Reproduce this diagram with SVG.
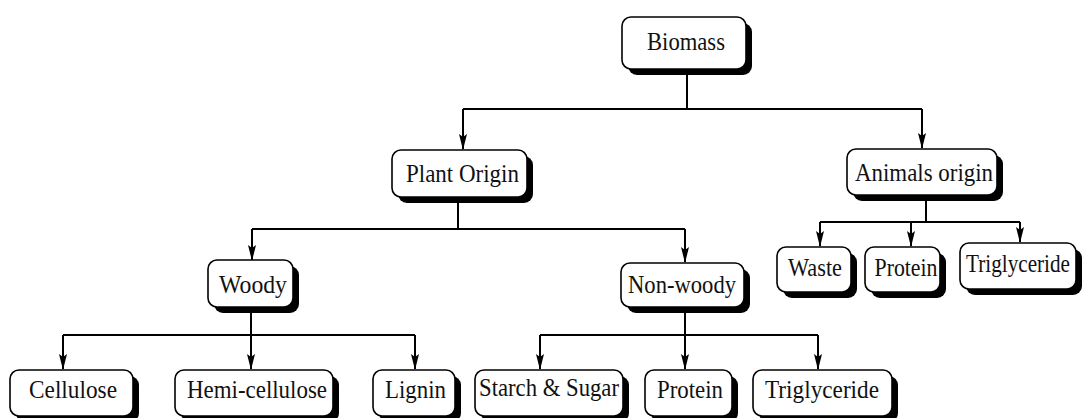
<svg xmlns="http://www.w3.org/2000/svg" width="1084" height="418" viewBox="0 0 1084 418">
  <defs>
    <style>
      .box { fill: #fff; stroke: #000; stroke-width: 1.6; }
      .shadow { fill: #000; }
      .lbl { font-family: "Liberation Serif", "Times New Roman", serif; font-size: 26px; fill: #111; text-anchor: middle; }
      .wire { fill: none; stroke: #000; stroke-width: 2; }
    </style>
    <!-- slender arrowhead, tip at the end of the line -->
    <marker id="arrow" viewBox="0 0 16 8" refX="15" refY="4" markerWidth="16" markerHeight="8" markerUnits="userSpaceOnUse" orient="auto">
      <path d="M0,0 L16,4 L0,8 L3,4 Z" fill="#000"/>
    </marker>
  </defs>
  <rect width="1084" height="418" fill="#fff"/>

  <!-- connectors -->
  <g id="connectors" class="wire">
    <path d="M687,75 V109 M463,109 H922"/>
    <path d="M463,109 V149" marker-end="url(#arrow)"/>
    <path d="M922,109 V148" marker-end="url(#arrow)"/>

    <path d="M458,203 V229 M252,229 H685"/>
    <path d="M252,229 V260" marker-end="url(#arrow)"/>
    <path d="M685,229 V262" marker-end="url(#arrow)"/>

    <path d="M926,201 V222 M820,222 H1020"/>
    <path d="M820,222 V246" marker-end="url(#arrow)"/>
    <path d="M911,222 V246" marker-end="url(#arrow)"/>
    <path d="M1020,222 V242" marker-end="url(#arrow)"/>

    <path d="M251,313 V335 M63,335 H415"/>
    <path d="M63,335 V369" marker-end="url(#arrow)"/>
    <path d="M251,335 V369" marker-end="url(#arrow)"/>
    <path d="M415,335 V369" marker-end="url(#arrow)"/>

    <path d="M685,313 V335 M540,335 H818"/>
    <path d="M540,335 V369" marker-end="url(#arrow)"/>
    <path d="M685,335 V369" marker-end="url(#arrow)"/>
    <path d="M818,335 V369" marker-end="url(#arrow)"/>
  </g>

  <!-- nodes: shadow, box, label -->
  <g id="biomass">
    <rect class="shadow" x="628" y="23" width="124" height="52" rx="9"/>
    <rect class="box" x="622" y="17" width="124" height="52" rx="9"/>
    <text class="lbl" x="686" y="50" textLength="78" lengthAdjust="spacingAndGlyphs">Biomass</text>
  </g>
  <g id="plant-origin">
    <rect class="shadow" x="398" y="156" width="135" height="47" rx="9"/>
    <rect class="box" x="392" y="150" width="135" height="47" rx="9"/>
    <text class="lbl" x="462.5" y="182" textLength="113" lengthAdjust="spacingAndGlyphs">Plant Origin</text>
  </g>
  <g id="animals-origin">
    <rect class="shadow" x="853" y="155" width="150" height="46" rx="9"/>
    <rect class="box" x="847" y="149" width="150" height="46" rx="9"/>
    <text class="lbl" x="924" y="181" textLength="138" lengthAdjust="spacingAndGlyphs">Animals origin</text>
  </g>
  <g id="woody">
    <rect class="shadow" x="214" y="266" width="85" height="47" rx="9"/>
    <rect class="box" x="208" y="260" width="85" height="47" rx="9"/>
    <text class="lbl" x="253" y="293" textLength="68" lengthAdjust="spacingAndGlyphs">Woody</text>
  </g>
  <g id="non-woody">
    <rect class="shadow" x="627" y="269" width="123" height="44" rx="9"/>
    <rect class="box" x="621" y="263" width="123" height="44" rx="9"/>
    <text class="lbl" x="682" y="293" textLength="108" lengthAdjust="spacingAndGlyphs">Non-woody</text>
  </g>
  <g id="waste">
    <rect class="shadow" x="783" y="253" width="74" height="45" rx="9"/>
    <rect class="box" x="777" y="247" width="74" height="45" rx="9"/>
    <text class="lbl" x="815" y="276" textLength="54" lengthAdjust="spacingAndGlyphs">Waste</text>
  </g>
  <g id="animal-protein">
    <rect class="shadow" x="871" y="253" width="75" height="45" rx="9"/>
    <rect class="box" x="865" y="247" width="75" height="45" rx="9"/>
    <text class="lbl" x="906" y="276" textLength="63" lengthAdjust="spacingAndGlyphs">Protein</text>
  </g>
  <g id="animal-triglyceride">
    <rect class="shadow" x="966" y="249" width="116" height="46" rx="9"/>
    <rect class="box" x="960" y="243" width="116" height="46" rx="9"/>
    <text class="lbl" x="1018" y="272" font-size="24" textLength="104" lengthAdjust="spacingAndGlyphs">Triglyceride</text>
  </g>
  <g id="cellulose">
    <rect class="shadow" x="16" y="376" width="123" height="46" rx="9"/>
    <rect class="box" x="10" y="370" width="123" height="46" rx="9"/>
    <text class="lbl" x="73" y="398" textLength="88" lengthAdjust="spacingAndGlyphs">Cellulose</text>
  </g>
  <g id="hemi-cellulose">
    <rect class="shadow" x="181" y="376" width="158" height="46" rx="9"/>
    <rect class="box" x="175" y="370" width="158" height="46" rx="9"/>
    <text class="lbl" x="257" y="398" textLength="140" lengthAdjust="spacingAndGlyphs">Hemi-cellulose</text>
  </g>
  <g id="lignin">
    <rect class="shadow" x="379" y="376" width="82" height="46" rx="9"/>
    <rect class="box" x="373" y="370" width="82" height="46" rx="9"/>
    <text class="lbl" x="415.5" y="398" textLength="61" lengthAdjust="spacingAndGlyphs">Lignin</text>
  </g>
  <g id="starch-sugar">
    <rect class="shadow" x="481" y="376" width="148" height="46" rx="9"/>
    <rect class="box" x="475" y="370" width="148" height="46" rx="9"/>
    <text class="lbl" x="549" y="396" textLength="140" lengthAdjust="spacingAndGlyphs">Starch &amp; Sugar</text>
  </g>
  <g id="plant-protein">
    <rect class="shadow" x="651" y="376" width="87" height="46" rx="9"/>
    <rect class="box" x="645" y="370" width="87" height="46" rx="9"/>
    <text class="lbl" x="690" y="398" textLength="66" lengthAdjust="spacingAndGlyphs">Protein</text>
  </g>
  <g id="plant-triglyceride">
    <rect class="shadow" x="759" y="376" width="139" height="46" rx="9"/>
    <rect class="box" x="753" y="370" width="139" height="46" rx="9"/>
    <text class="lbl" x="822" y="398" textLength="114" lengthAdjust="spacingAndGlyphs">Triglyceride</text>
  </g>
</svg>
